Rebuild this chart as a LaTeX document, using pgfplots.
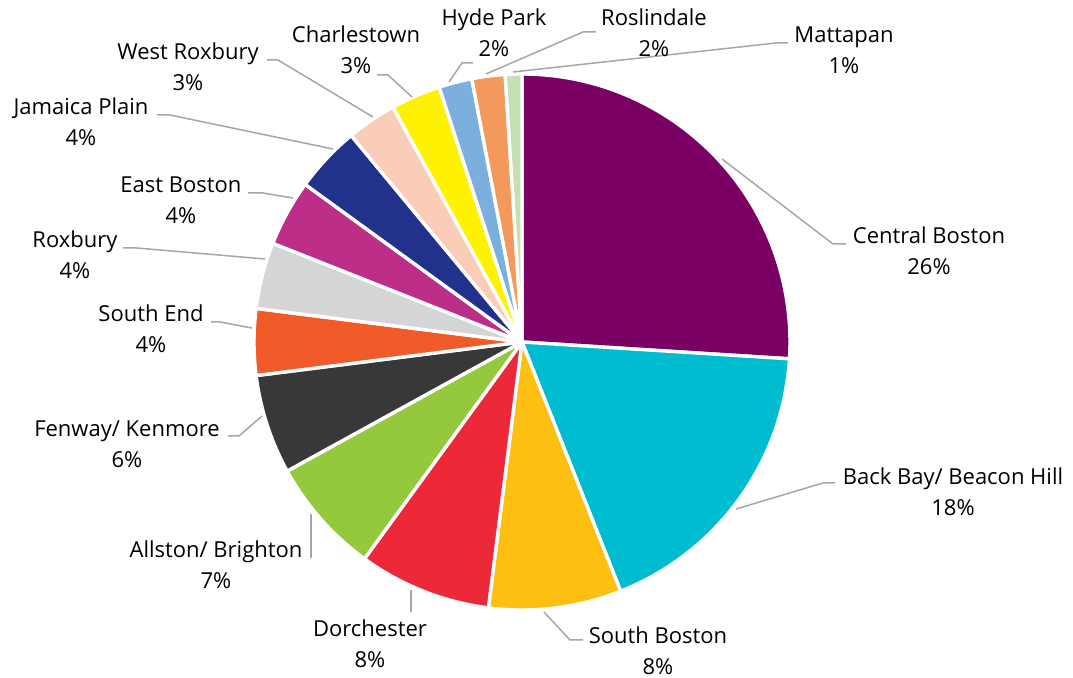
\documentclass[border=0pt]{standalone}
\usepackage{fontspec}
\setmainfont{Open Sans}
\usepackage{pgfplots}
\pgfplotsset{compat=1.18}

\definecolor{cCentral}{HTML}{7A0064}
\definecolor{cBackBay}{HTML}{00BCD1}
\definecolor{cSouthBos}{HTML}{FCBF12}
\definecolor{cDorch}{HTML}{ED2839}
\definecolor{cAllston}{HTML}{94C83D}
\definecolor{cFenway}{HTML}{383838}
\definecolor{cSouthEnd}{HTML}{F15A29}
\definecolor{cRoxbury}{HTML}{D4D5D7}
\definecolor{cEastBos}{HTML}{BD2E89}
\definecolor{cJamaica}{HTML}{22318B}
\definecolor{cWestRox}{HTML}{FBCDB8}
\definecolor{cCharles}{HTML}{FFF200}
\definecolor{cHyde}{HTML}{7BAFDE}
\definecolor{cRoslin}{HTML}{F3995B}
\definecolor{cMattapan}{HTML}{C5E0B4}
\definecolor{leader}{HTML}{A6A6A6}

% pie centre and radius in axis units
\newcommand\cx{522}
\newcommand\cy{342}
\newcommand\rad{268}

% running share (percent) already placed, clockwise from 12 o'clock
\gdef\cum{0}
\newcommand\slice[2]{%
  \pgfmathsetmacro\aEnd{90-3.6*\cum}%
  \pgfmathsetmacro\nextcum{\cum+#2}%
  \pgfmathsetmacro\aStart{90-3.6*\nextcum}%
  \xdef\cum{\nextcum}%
  \edef\doslice{\noexpand\addplot[fill=#1, draw=white, line width=1.7pt,
      line join=round, domain=\aStart:\aEnd, samples=80]
    ({\cx+\rad*cos(x)}, {\cy-\rad*sin(x)}) -- (\cx,\cy) -- cycle;}%
  \doslice
}

% two-line data label: centre x, first baseline, name, share
\newcommand\lbl[4]{%
  \node[anchor=base, inner sep=0pt, font=\fontsize{11}{13}\selectfont] at (#1,#2) {#3};
  \node[anchor=base, inner sep=0pt, font=\fontsize{11}{13}\selectfont] at (#1,#2+31) {#4\%};
}

\begin{document}
\begin{tikzpicture}
\begin{axis}[
  scale only axis, width=536.5pt, height=339pt,
  xmin=0, xmax=1073, ymin=0, ymax=678, y dir=reverse,
  hide axis, clip=false, no markers,
]
\path (0,0) rectangle (1073,678);

\slice{cCentral}{26}
\slice{cBackBay}{18}
\slice{cSouthBos}{8}
\slice{cDorch}{8}
\slice{cAllston}{7}
\slice{cFenway}{6}
\slice{cSouthEnd}{4}
\slice{cRoxbury}{4}
\slice{cEastBos}{4}
\slice{cJamaica}{4}
\slice{cWestRox}{3}
\slice{cCharles}{3}
\slice{cHyde}{2}
\slice{cRoslin}{2}
\slice{cMattapan}{1}

% leader lines
\addplot[leader, line width=0.75pt] coordinates {(722,159) (833,244) (846,244)};
\addplot[leader, line width=0.75pt] coordinates {(736,509) (823,483) (835,483)};
\addplot[leader, line width=0.75pt] coordinates {(544,612) (570,640) (583,640)};
\addplot[leader, line width=0.75pt] coordinates {(411,590) (411,612)};
\addplot[leader, line width=0.75pt] coordinates {(311,514) (311,558)};
\addplot[leader, line width=0.75pt] coordinates {(262,416) (239,436) (228,436)};
\addplot[leader, line width=0.75pt] coordinates {(252,328) (220,322) (211,322)};
\addplot[leader, line width=0.75pt] coordinates {(265,259) (137,248) (123,248)};
\addplot[leader, line width=0.75pt] coordinates {(293,198) (263,193) (248,193)};
\addplot[leader, line width=0.75pt] coordinates {(333,149) (170,115) (157,115)};
\addplot[leader, line width=0.75pt] coordinates {(373,117) (278,60) (267,60)};
\addplot[leader, line width=0.75pt] coordinates {(412,97) (388,75) (377,75)};
\addplot[leader, line width=0.75pt] coordinates {(449,82) (462,63) (473,63)};
\addplot[leader, line width=0.75pt] coordinates {(486,74) (583,32) (596,32)};
\addplot[leader, line width=0.75pt] coordinates {(513,72) (776,43) (788,43)};

% labels
\lbl{929}{244}{Central Boston}{26}
\lbl{953}{485}{Back Bay/ Beacon Hill}{18}
\lbl{658}{644}{South Boston}{8}
\lbl{370}{637}{Dorchester}{8}
\lbl{216}{558}{Allston/ Brighton}{7}
\lbl{127}{437}{Fenway/ Kenmore}{6}
\lbl{151}{322}{South End}{4}
\lbl{75}{248}{Roxbury}{4}
\lbl{181}{193}{East Boston}{4}
\lbl{81}{115}{Jamaica Plain}{4}
\lbl{188}{60}{West Roxbury}{3}
\lbl{356}{43}{Charlestown}{3}
\lbl{494}{26}{Hyde Park}{2}
\lbl{654}{26}{Roslindale}{2}
\lbl{844}{43}{Mattapan}{1}
\end{axis}
\end{tikzpicture}
\end{document}
